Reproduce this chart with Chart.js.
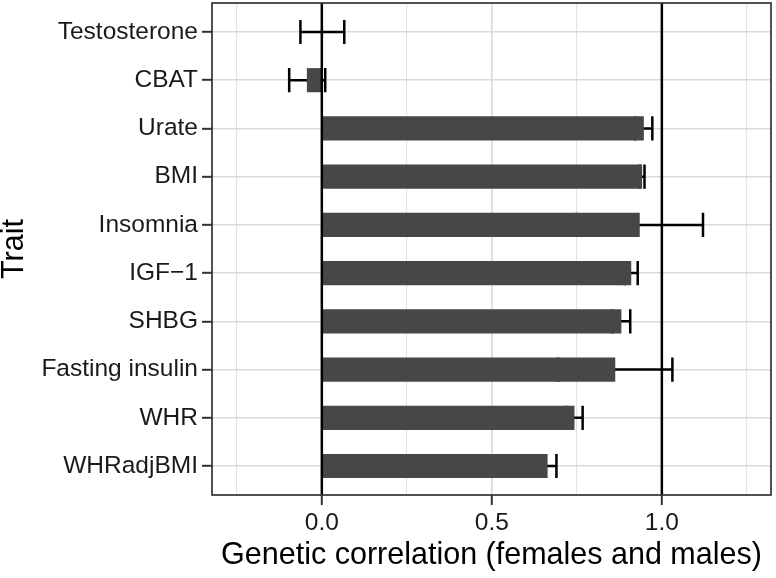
<!DOCTYPE html>
<html><head><meta charset="utf-8">
<script src="https://cdn.jsdelivr.net/npm/chart.js@4"></script>
<style>html,body{margin:0;padding:0;background:#fff}#wrap{width:776px;height:578px}</style>
</head><body><div id="wrap"><canvas id="c" width="776" height="578"></canvas></div>
<script>
const traits = ['Testosterone','CBAT','Urate','BMI','Insomnia','IGF\u22121','SHBG','Fasting insulin','WHR','WHRadjBMI'];
const rg     = [0.002,-0.044,0.947,0.942,0.935,0.910,0.881,0.863,0.743,0.664];
const ciLow  = [-0.063,-0.096,0.922,0.935,0.749,0.891,0.855,0.695,0.719,0.638];
const ciHigh = [0.066,0.010,0.972,0.949,1.121,0.929,0.907,1.031,0.767,0.690];
const xMajorTicks = [0, 0.5, 1.0];
const xMinorTicks = [-0.25, 0.25, 0.75, 1.25];
const refLines = [0, 1];
const xTitle = 'Genetic correlation (females and males)';
const yTitle = 'Trait';

const FONT = "'Liberation Sans', Arial, Helvetica, sans-serif";
const isMajor = v => xMajorTicks.some(m => Math.abs(m - v) < 1e-9);

const overlay = {
  id: 'overlay',
  beforeDatasetsDraw(chart) {
    const {ctx, scales: {x, y}} = chart;
    ctx.save();
    ctx.strokeStyle = '#000';
    const half = Math.abs(y.getPixelForValue(1) - y.getPixelForValue(0)) * 0.25;
    ctx.lineWidth = 2.5;
    traits.forEach((t, i) => {
      const py = y.getPixelForValue(i);
      const x1 = x.getPixelForValue(ciLow[i]), x2 = x.getPixelForValue(ciHigh[i]);
      ctx.beginPath();
      ctx.moveTo(x1, py); ctx.lineTo(x2, py);
      ctx.moveTo(x1, py - half); ctx.lineTo(x1, py + half);
      ctx.moveTo(x2, py - half); ctx.lineTo(x2, py + half);
      ctx.stroke();
    });
    ctx.restore();
  },
  afterDatasetsDraw(chart) {
    const {ctx, chartArea: a, scales: {x}} = chart;
    ctx.save();
    ctx.strokeStyle = '#000';
    ctx.lineWidth = 2.5;
    refLines.forEach(v => {
      const px = x.getPixelForValue(v);
      ctx.beginPath(); ctx.moveTo(px, a.top); ctx.lineTo(px, a.bottom); ctx.stroke();
    });
    ctx.strokeStyle = '#333';
    ctx.lineWidth = 1.7;
    ctx.strokeRect(a.left, a.top, a.width, a.height);
    ctx.restore();
  }
};

new Chart(document.getElementById('c'), {
  type: 'bar',
  data: {
    datasets: [{
      data: traits.map((t, i) => ({x: rg[i], y: i})),
      backgroundColor: '#474747',
      borderWidth: 0,
      barPercentage: 0.5,
      categoryPercentage: 1.0
    }]
  },
  options: {
    indexAxis: 'y',
    responsive: false,
    devicePixelRatio: 1,
    animation: false,
    layout: {padding: {top: 3, right: 5, left: 0, bottom: 0}},
    plugins: {legend: {display: false}, tooltip: {enabled: false}},
    scales: {
      x: {
        type: 'linear',
        min: -0.323, max: 1.321,
        afterBuildTicks: s => {
          s.ticks = [...xMajorTicks, ...xMinorTicks].sort((a, b) => a - b).map(v => ({value: v}));
        },
        afterFit: s => { s.height = 83; s.paddingLeft = 0; s.paddingRight = 0; },
        border: {display: false},
        grid: {
          color: c => isMajor(c.tick.value) ? '#d9d9d9' : '#e3e3e3',
          lineWidth: c => isMajor(c.tick.value) ? 1.6 : 1.1,
          tickColor: c => isMajor(c.tick.value) ? '#333' : 'rgba(0,0,0,0)',
          tickLength: 10,
          tickWidth: 2
        },
        ticks: {
          autoSkip: false,
          maxRotation: 0,
          padding: 4,
          color: '#1a1a1a',
          font: {family: FONT, size: 24.5},
          callback: v => isMajor(v) ? Number(v).toFixed(1) : ''
        },
        title: {
          display: true, text: xTitle, color: '#000',
          font: {family: FONT, size: 30.5},
          padding: {top: 0, bottom: 4}
        }
      },
      y: {
        type: 'linear',
        reverse: true,
        offset: false,
        min: -0.6, max: traits.length - 1 + 0.6,
        afterBuildTicks: s => { s.ticks = traits.map((t, i) => ({value: i})); },
        afterFit: s => { s.width = 212; s.paddingTop = 0; s.paddingBottom = 0; },
        border: {display: false},
        grid: {
          offset: false,
          color: '#d9d9d9',
          lineWidth: 1.6,
          tickColor: '#333',
          tickLength: 10,
          tickWidth: 2
        },
        ticks: {
          autoSkip: false,
          padding: 4,
          color: '#1a1a1a',
          font: {family: FONT, size: 24.5},
          callback: v => traits[v]
        },
        title: {
          display: true, text: yTitle, color: '#000',
          font: {family: FONT, size: 30.5, lineHeight: 0.95},
          padding: 0
        }
      }
    }
  },
  plugins: [overlay]
});
</script>
</body></html>
